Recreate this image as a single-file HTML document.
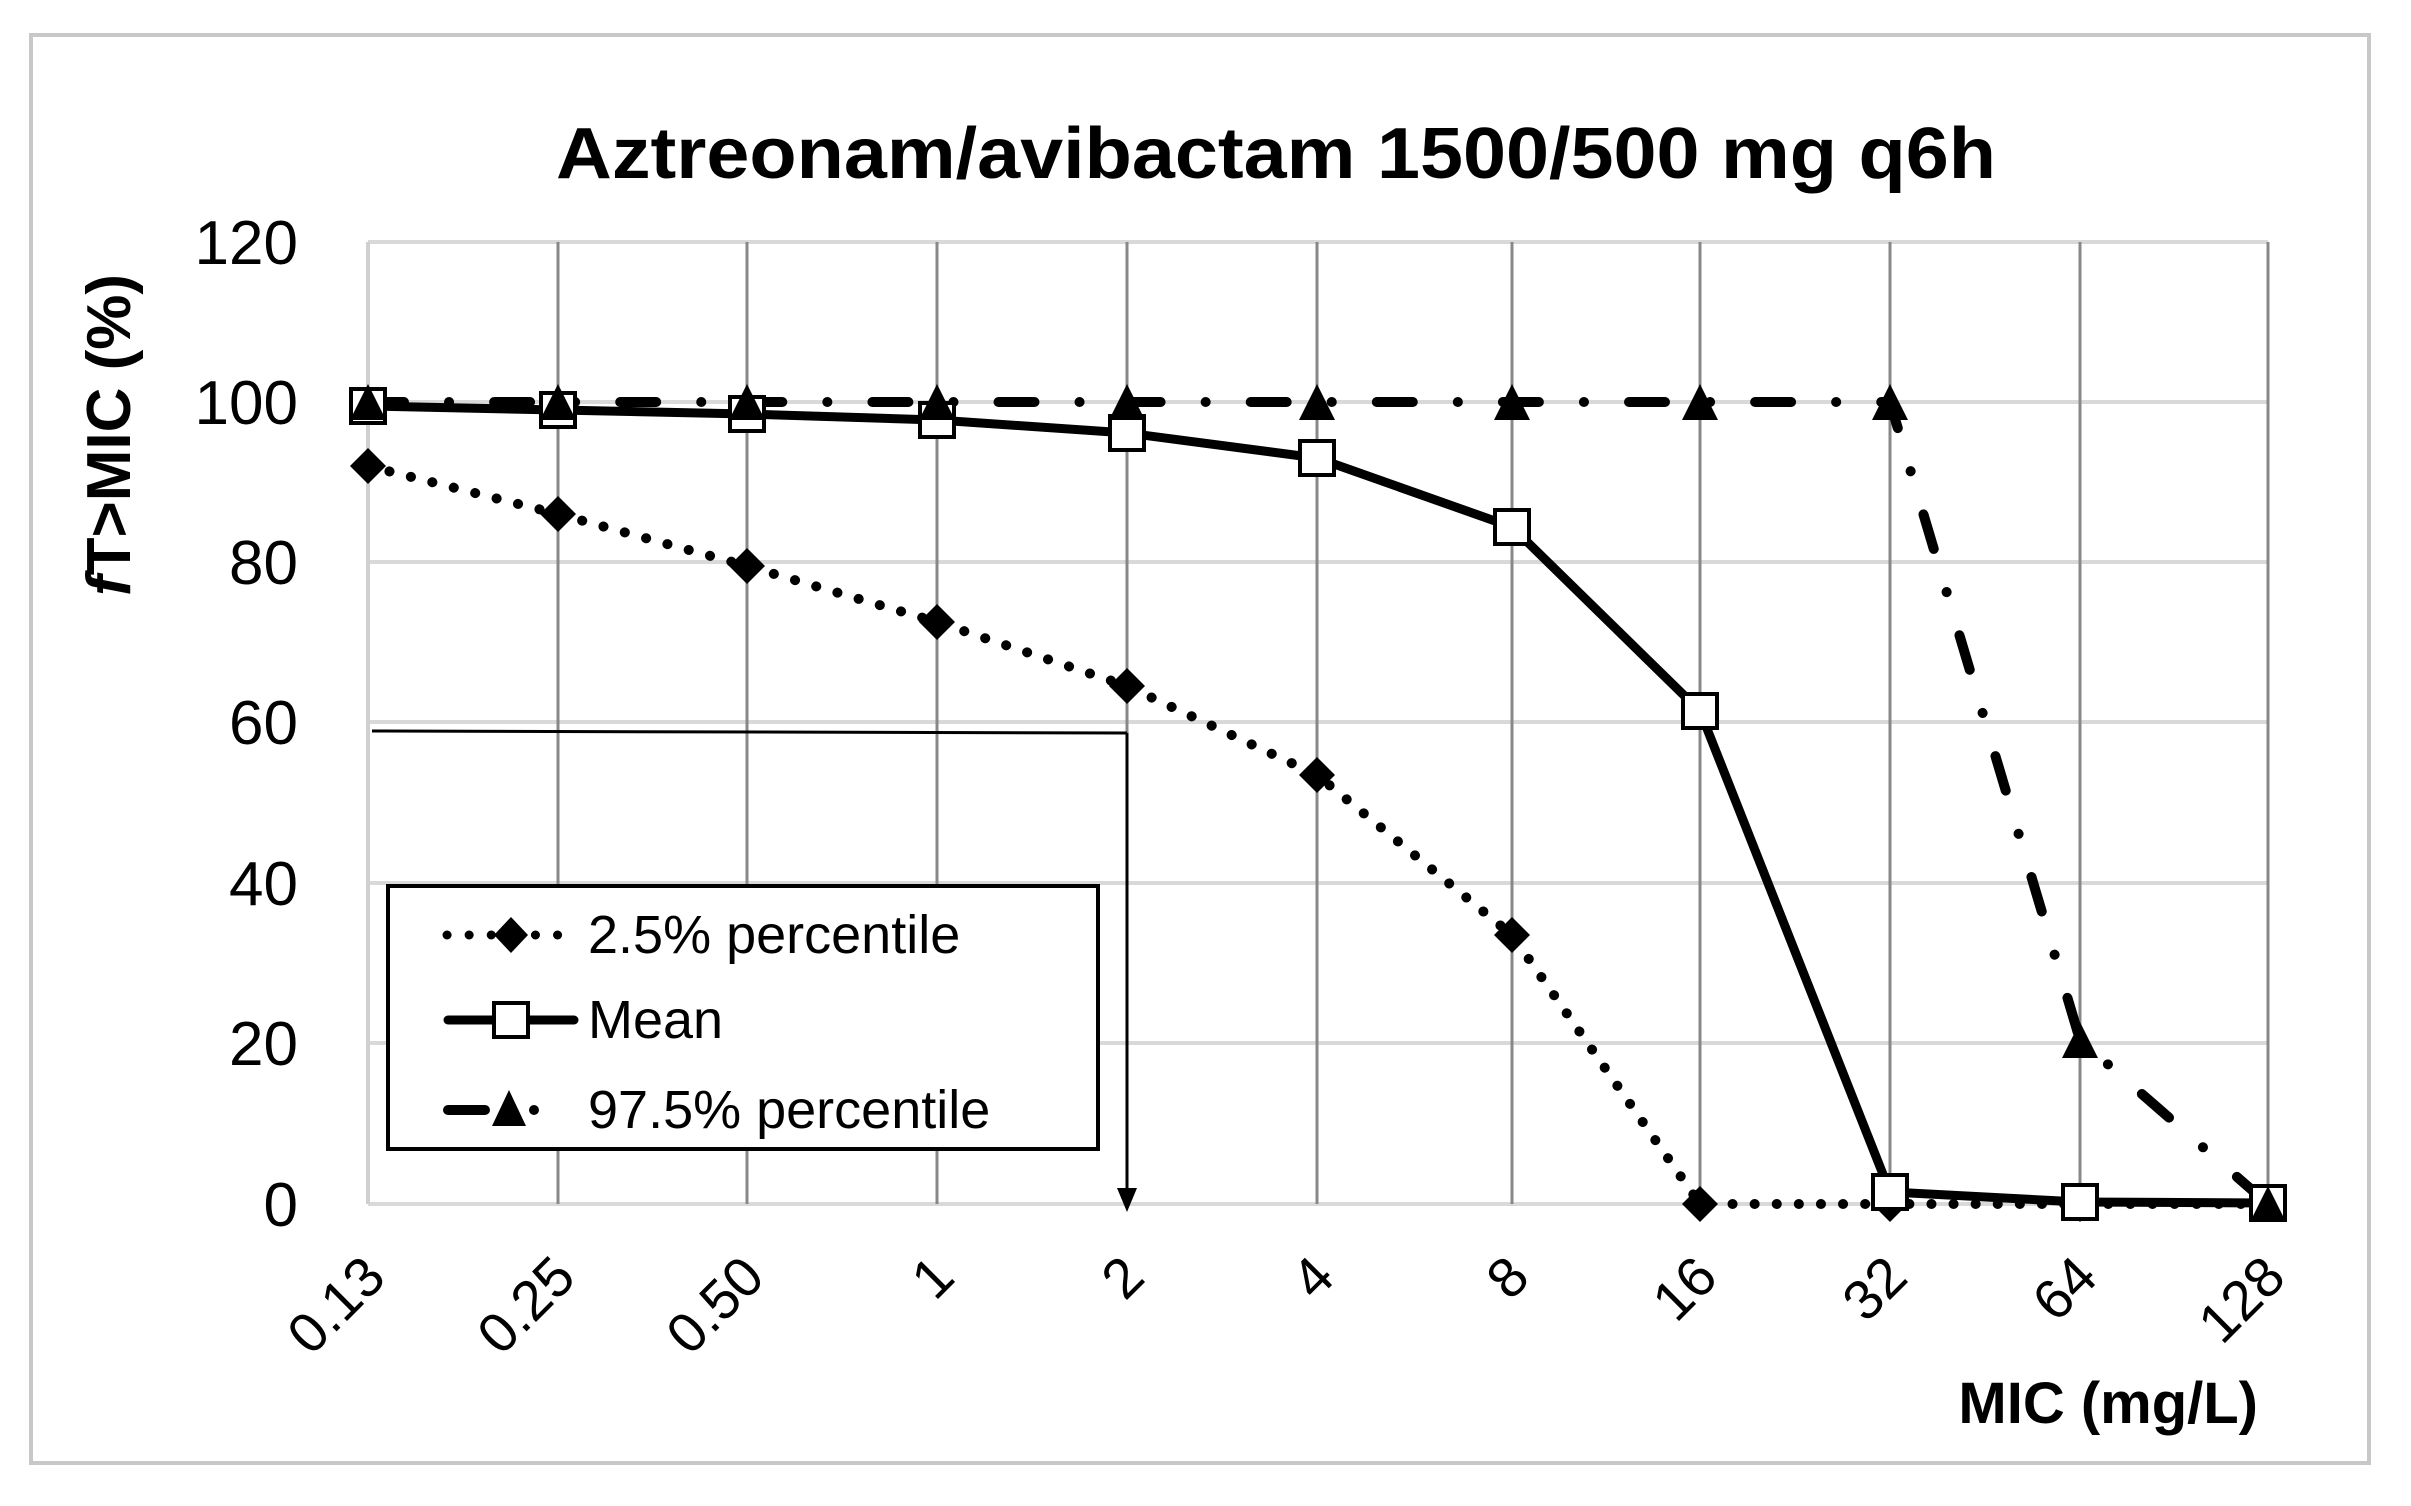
<!DOCTYPE html>
<html><head><meta charset="utf-8"><style>
html,body{margin:0;padding:0;background:#fff;}
svg{display:block;}
text{font-family:"Liberation Sans",sans-serif;}
</style></head><body>
<svg width="2411" height="1506" viewBox="0 0 2411 1506" xmlns="http://www.w3.org/2000/svg">
<rect x="0" y="0" width="2411" height="1506" fill="#fff"/>
<rect x="31" y="35" width="2338" height="1428" fill="#fff" stroke="#c8c8c8" stroke-width="4"/>
<text x="1276" y="178" font-size="72" font-weight="bold" text-anchor="middle" textLength="1440" lengthAdjust="spacingAndGlyphs">Aztreonam/avibactam 1500/500 mg q6h</text>
<g stroke="#d9d9d9" stroke-width="4">
<line x1="368" y1="242" x2="2268" y2="242"/>
<line x1="368" y1="402" x2="2268" y2="402"/>
<line x1="368" y1="562" x2="2268" y2="562"/>
<line x1="368" y1="722" x2="2268" y2="722"/>
<line x1="368" y1="883" x2="2268" y2="883"/>
<line x1="368" y1="1043" x2="2268" y2="1043"/>
<line x1="368" y1="1204" x2="2268" y2="1204"/>
</g>
<line x1="368" y1="242" x2="368" y2="1204" stroke="#d0d0d0" stroke-width="4"/>
<g stroke="#888" stroke-width="3">
<line x1="558" y1="242" x2="558" y2="1204"/>
<line x1="747" y1="242" x2="747" y2="1204"/>
<line x1="937" y1="242" x2="937" y2="1204"/>
<line x1="1127" y1="242" x2="1127" y2="1204"/>
<line x1="1317" y1="242" x2="1317" y2="1204"/>
<line x1="1512" y1="242" x2="1512" y2="1204"/>
<line x1="1700" y1="242" x2="1700" y2="1204"/>
<line x1="1890" y1="242" x2="1890" y2="1204"/>
<line x1="2080" y1="242" x2="2080" y2="1204"/>
<line x1="2268" y1="242" x2="2268" y2="1204"/>
</g>
<g font-size="62" text-anchor="end">
<text x="298" y="264">120</text>
<text x="298" y="424">100</text>
<text x="298" y="584">80</text>
<text x="298" y="744">60</text>
<text x="298" y="905">40</text>
<text x="298" y="1065">20</text>
<text x="298" y="1226">0</text>
</g>
<text transform="translate(130,435) rotate(-90)" font-size="62" font-weight="bold" text-anchor="middle"><tspan font-style="italic">f</tspan>T&gt;MIC  (%)</text>
<g font-size="56" text-anchor="end">
<text transform="translate(388,1280) rotate(-45)">0.13</text>
<text transform="translate(578,1280) rotate(-45)">0.25</text>
<text transform="translate(767,1280) rotate(-45)">0.50</text>
<text transform="translate(957,1280) rotate(-45)">1</text>
<text transform="translate(1147,1280) rotate(-45)">2</text>
<text transform="translate(1337,1280) rotate(-45)">4</text>
<text transform="translate(1532,1280) rotate(-45)">8</text>
<text transform="translate(1720,1280) rotate(-45)">16</text>
<text transform="translate(1910,1280) rotate(-45)">32</text>
<text transform="translate(2100,1280) rotate(-45)">64</text>
<text transform="translate(2288,1280) rotate(-45)">128</text>
</g>
<text x="2258" y="1423" font-size="58" font-weight="bold" text-anchor="end">MIC (mg/L)</text>
<polyline points="372,731 1127,733" fill="none" stroke="#000" stroke-width="3"/>
<line x1="1127" y1="733" x2="1127" y2="1195" stroke="#000" stroke-width="3"/>
<polygon points="1117,1188 1137,1188 1127,1212" fill="#000"/>
<polyline points="368,466 558,514 747,566 937,622 1127,686 1317,775 1512,935 1700,1204 1890,1204 2080,1204 2268,1204" fill="none" stroke="#000" stroke-width="10" stroke-dasharray="0.1 22" stroke-linecap="round"/>
<g fill="#000">
<polygon points="368,448 386,466 368,484 350,466"/>
<polygon points="558,496 576,514 558,532 540,514"/>
<polygon points="747,548 765,566 747,584 729,566"/>
<polygon points="937,604 955,622 937,640 919,622"/>
<polygon points="1127,668 1145,686 1127,704 1109,686"/>
<polygon points="1317,757 1335,775 1317,793 1299,775"/>
<polygon points="1512,917 1530,935 1512,953 1494,935"/>
<polygon points="1700,1186 1718,1204 1700,1222 1682,1204"/>
<polygon points="1890,1186 1908,1204 1890,1222 1872,1204"/>
<polygon points="2080,1186 2098,1204 2080,1222 2062,1204"/>
<polygon points="2268,1186 2286,1204 2268,1222 2250,1204"/>
</g>
<polyline points="368,402 558,402 747,402 937,402 1127,402 1317,402 1512,402 1700,402 1890,402 2080,1040 2268,1204" fill="none" stroke="#000" stroke-width="10" stroke-dasharray="36 45 0.1 45" stroke-linecap="round"/>
<polyline points="368,406 558,410 747,414 937,420 1127,433 1317,458 1512,527 1700,711 1890,1192 2080,1202 2268,1203" fill="none" stroke="#000" stroke-width="9" stroke-linejoin="round"/>
<g fill="#fff" stroke="#000" stroke-width="4">
<rect x="351" y="389" width="34" height="34"/>
<rect x="541" y="393" width="34" height="34"/>
<rect x="730" y="397" width="34" height="34"/>
<rect x="920" y="403" width="34" height="34"/>
<rect x="1110" y="416" width="34" height="34"/>
<rect x="1300" y="441" width="34" height="34"/>
<rect x="1495" y="510" width="34" height="34"/>
<rect x="1683" y="694" width="34" height="34"/>
<rect x="1873" y="1175" width="34" height="34"/>
<rect x="2063" y="1185" width="34" height="34"/>
<rect x="2251" y="1186" width="34" height="34"/>
</g>
<g fill="#000">
<polygon points="368,384 386,420 350,420"/>
<polygon points="558,384 576,420 540,420"/>
<polygon points="747,384 765,420 729,420"/>
<polygon points="937,384 955,420 919,420"/>
<polygon points="1127,384 1145,420 1109,420"/>
<polygon points="1317,384 1335,420 1299,420"/>
<polygon points="1512,384 1530,420 1494,420"/>
<polygon points="1700,384 1718,420 1682,420"/>
<polygon points="1890,384 1908,420 1872,420"/>
<polygon points="2080,1022 2098,1058 2062,1058"/>
<polygon points="2268,1186 2286,1222 2250,1222"/>
</g>
<rect x="388" y="886" width="710" height="263" fill="#fff" stroke="#000" stroke-width="4"/>
<line x1="447" y1="935" x2="568" y2="935" stroke="#000" stroke-width="9" stroke-dasharray="0.1 22" stroke-linecap="round"/>
<polygon points="511,917 528,935 511,953 494,935" fill="#000"/>
<text x="588" y="953" font-size="54">2.5% percentile</text>
<line x1="448" y1="1020" x2="574" y2="1020" stroke="#000" stroke-width="9" stroke-linecap="round"/>
<rect x="494" y="1003" width="34" height="34" fill="#fff" stroke="#000" stroke-width="4"/>
<text x="588" y="1038" font-size="54">Mean</text>
<line x1="448" y1="1110" x2="485" y2="1110" stroke="#000" stroke-width="10" stroke-linecap="round"/>
<polygon points="509,1090 526,1126 492,1126" fill="#000"/>
<circle cx="534" cy="1110" r="5" fill="#000"/>
<text x="588" y="1128" font-size="54">97.5% percentile</text>
</svg>
</body></html>
